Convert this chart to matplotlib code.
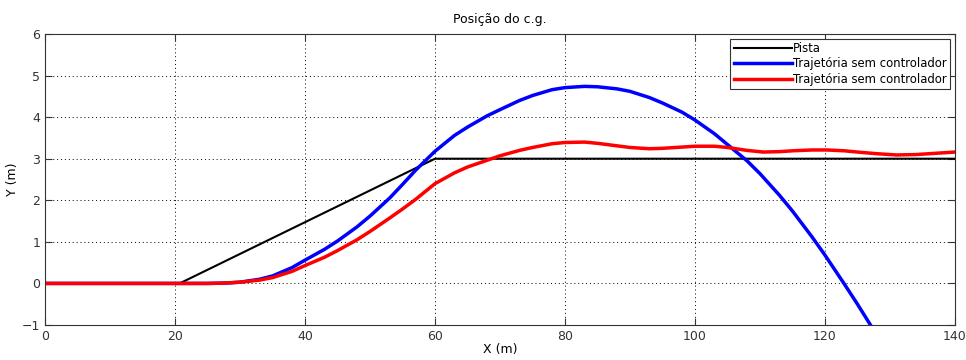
import numpy as np
import matplotlib.pyplot as plt

# Pista (reference track)
pista_x = [0, 20.7, 60, 140]
pista_y = [0, 0, 3.0, 3.0]

# Trajetória (blue)
azul_x = [0, 20, 25, 28, 30, 33, 35, 38, 40, 43, 45, 48, 50, 53, 55, 57, 60, 63, 65, 68, 70,
          73, 75, 78, 80, 83, 85, 88, 90, 93, 95, 98, 100, 103, 105, 108, 110, 113, 115,
          118, 120, 123, 125, 127]
azul_y = [0, 0, 0, 0.01, 0.03, 0.1, 0.18, 0.38, 0.56, 0.82, 1.02, 1.36, 1.62, 2.05, 2.38, 2.72,
          3.18, 3.56, 3.76, 4.03, 4.18, 4.4, 4.52, 4.66, 4.71, 4.74, 4.73, 4.68, 4.62, 4.47,
          4.34, 4.12, 3.93, 3.6, 3.34, 2.95, 2.64, 2.12, 1.74, 1.12, 0.68, -0.02, -0.5, -1.0]

# Trajetória (red)
verm_x = [0, 20, 25, 27, 30, 33, 35, 38, 40, 43, 45, 48, 50, 53, 55, 57, 60, 63, 65, 68.7,
          70, 73, 75, 78, 80, 83, 85, 88, 90, 93, 95, 98, 100, 103, 105, 108, 110.5, 113,
          115, 118, 120.3, 123, 125, 128, 131, 134, 137, 140]
verm_y = [0, 0, 0, 0.005, 0.03, 0.08, 0.14, 0.29, 0.43, 0.63, 0.79, 1.05, 1.25, 1.57, 1.79, 2.02,
          2.4, 2.66, 2.8, 3.0, 3.07, 3.2, 3.27, 3.36, 3.39, 3.4, 3.37, 3.31, 3.27, 3.24, 3.25,
          3.28, 3.3, 3.3, 3.27, 3.2, 3.16, 3.17, 3.19, 3.21, 3.21, 3.19, 3.16, 3.12, 3.09,
          3.1, 3.13, 3.16]

fig = plt.figure(figsize=(9.66, 3.6), dpi=100)
ax = fig.add_axes([0.0466, 0.0972, 0.942, 0.8084])

ax.plot(pista_x, pista_y, color='black', lw=1.5, label='Pista')
ax.plot(azul_x, azul_y, color='#0000ff', lw=2.5, label='Trajetória sem controlador')
ax.plot(verm_x, verm_y, color='#ff0000', lw=2.5, label='Trajetória sem controlador')

ax.set_xlim(0, 140)
ax.set_ylim(-1, 6)
ax.set_xticks(np.arange(0, 141, 20))
ax.set_yticks(np.arange(-1, 7, 1))
ax.grid(True, color='black', linestyle=(0, (1, 3)), linewidth=0.7)
ax.tick_params(direction='in', top=True, right=True, labelsize=9, length=5, colors='#333333')
for s in ax.spines.values():
    s.set_color('#333333')

ax.set_title('Posição do c.g.', fontsize=9, pad=8)
ax.set_xlabel('X (m)', fontsize=9, labelpad=0)
ax.set_ylabel('Y (m)', fontsize=9, labelpad=2)

leg = ax.legend(loc='upper right', fontsize=8.4, fancybox=False, framealpha=1,
                edgecolor='#333333', handlelength=5.0, handletextpad=0.1,
                borderpad=0.3, labelspacing=0.2, borderaxespad=0.4)
leg.get_frame().set_linewidth(0.8)

fig.savefig('out.png', dpi=100)
